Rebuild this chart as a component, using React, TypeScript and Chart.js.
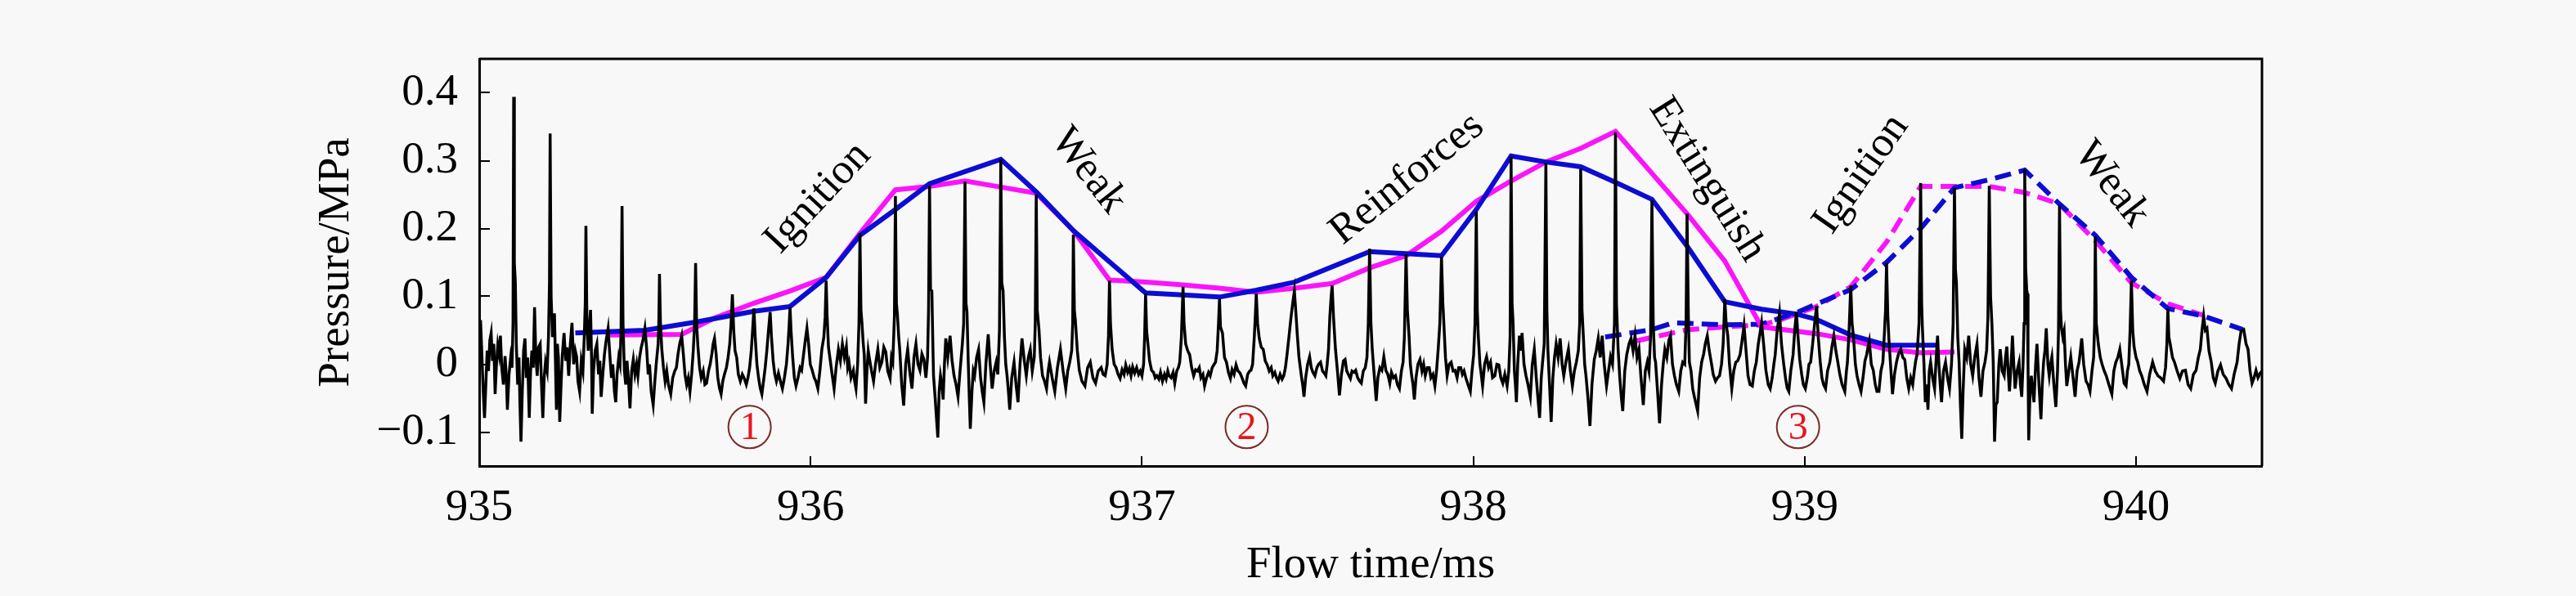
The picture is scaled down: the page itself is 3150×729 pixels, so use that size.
import React, { useEffect, useRef } from 'react';
import { Chart, registerables } from 'chart.js';

Chart.register(...registerables);

// ---------- data ----------
const xTickValues = [935, 936, 937, 938, 939, 940];
const xTickLabels = ['935', '936', '937', '938', '939', '940'];
const yTickValues = [-0.1, 0, 0.1, 0.2, 0.3, 0.4];
const yTickLabels = ['\u22120.1', '0', '0.1', '0.2', '0.3', '0.4'];

// measured pressure trace [flow time ms, pressure MPa]
const pressureTrace: [number, number][] = [
  [935.000, 0.030],[935.004, 0.065],[935.008, 0.015],[935.012, -0.040],[935.016, -0.079],[935.020, -0.030],[935.024, 0.020],[935.028, -0.010],[935.032, 0.035],[935.036, 0.046],[935.040, 0.005],[935.044, 0.030],[935.048, -0.044],[935.052, 0.000],[935.056, 0.028],[935.060, 0.015],[935.064, 0.042],[935.068, -0.005],[935.073, -0.030],[935.078, 0.012],[935.082, -0.020],[935.085, -0.067],[935.090, -0.015],[935.095, 0.010],[935.099, -0.005],[935.102, 0.060],[935.104, 0.394],[935.106, 0.150],[935.109, 0.121],[935.112, 0.030],[935.116, -0.030],[935.120, 0.010],[935.123, -0.060],[935.126, -0.114],[935.130, -0.040],[935.134, 0.020],[935.138, 0.038],[935.142, -0.020],[935.146, 0.010],[935.151, -0.079],[935.155, -0.010],[935.159, 0.020],[935.163, -0.005],[935.167, 0.084],[935.171, 0.010],[935.175, -0.017],[935.179, 0.025],[935.184, 0.030],[935.188, -0.030],[935.192, -0.079],[935.196, -0.020],[935.200, 0.003],[935.205, -0.010],[935.209, 0.040],[935.212, 0.120],[935.214, 0.340],[935.217, 0.100],[935.221, 0.040],[935.224, 0.060],[935.227, 0.075],[935.230, 0.005],[935.233, -0.067],[935.236, 0.030],[935.239, 0.010],[935.243, -0.085],[935.247, -0.030],[935.251, 0.015],[935.256, 0.046],[935.261, 0.005],[935.265, 0.025],[935.270, -0.017],[935.275, 0.030],[935.280, 0.061],[935.285, 0.000],[935.290, 0.020],[935.294, 0.011],[935.298, -0.025],[935.303, -0.040],[935.308, 0.005],[935.313, -0.010],[935.317, 0.040],[935.320, 0.090],[935.322, 0.204],[935.325, 0.060],[935.329, 0.020],[935.333, 0.060],[935.336, 0.080],[935.339, 0.010],[935.341, -0.073],[935.345, -0.010],[935.350, 0.020],[935.355, 0.030],[935.360, -0.015],[935.364, 0.005],[935.368, -0.048],[935.373, -0.015],[935.378, 0.015],[935.383, 0.035],[935.389, 0.053],[935.394, 0.015],[935.399, -0.020],[935.403, 0.000],[935.408, -0.040],[935.412, -0.056],[935.416, -0.015],[935.421, 0.010],[935.425, 0.000],[935.428, 0.050],[935.431, 0.233],[935.434, 0.060],[935.438, -0.009],[935.442, -0.030],[935.446, 0.005],[935.450, -0.020],[935.455, -0.065],[935.460, -0.010],[935.465, 0.007],[935.470, -0.015],[935.475, 0.000],[935.479, -0.017],[935.484, 0.010],[935.489, 0.025],[935.494, 0.035],[935.500, 0.053],[935.505, 0.025],[935.510, -0.015],[935.514, 0.000],[935.519, -0.040],[935.525, -0.060],[935.530, -0.025],[935.535, 0.005],[935.540, 0.030],[935.542, 0.060],[935.544, 0.133],[935.547, 0.060],[935.551, 0.022],[935.556, -0.005],[935.561, -0.025],[935.566, -0.010],[935.571, -0.030],[935.578, -0.044],[935.584, -0.020],[935.590, -0.010],[935.595, -0.005],[935.600, 0.015],[935.605, 0.030],[935.611, 0.042],[935.616, 0.015],[935.621, -0.015],[935.626, -0.030],[935.631, -0.020],[935.636, -0.040],[935.641, -0.015],[935.646, 0.020],[935.650, 0.060],[935.653, 0.149],[935.656, 0.060],[935.660, 0.026],[935.665, -0.005],[935.670, -0.020],[935.676, -0.010],[935.681, -0.030],[935.686, -0.028],[935.692, -0.010],[935.697, 0.000],[935.702, 0.015],[935.706, 0.030],[935.710, 0.038],[935.715, 0.015],[935.720, -0.020],[935.725, -0.035],[935.730, -0.044],[935.735, -0.025],[935.740, -0.015],[935.746, -0.005],[935.751, 0.010],[935.756, 0.030],[935.760, 0.060],[935.764, 0.103],[935.768, 0.050],[935.772, 0.020],[935.777, 0.010],[935.782, -0.015],[935.788, -0.025],[935.794, -0.015],[935.800, -0.021],[935.806, -0.030],[935.811, -0.020],[935.816, -0.005],[935.821, 0.020],[935.825, 0.050],[935.829, 0.082],[935.833, 0.040],[935.838, 0.000],[935.843, -0.020],[935.848, -0.035],[935.853, -0.044],[935.858, -0.025],[935.863, -0.005],[935.868, 0.020],[935.873, 0.050],[935.878, 0.077],[935.882, 0.040],[935.887, 0.005],[935.892, -0.015],[935.897, -0.025],
  [935.903, -0.013],[935.909, -0.025],[935.915, -0.036],[935.921, -0.020],[935.927, 0.000],[935.932, 0.030],[935.935, 0.055],[935.938, 0.084],[935.941, 0.050],[935.946, 0.010],[935.951, -0.020],[935.956, -0.032],[935.962, -0.020],[935.968, -0.005],[935.973, -0.009],[935.979, 0.015],[935.984, 0.035],[935.989, 0.053],[935.994, 0.030],[935.999, 0.000],[936.005, -0.009],[936.011, -0.020],[936.016, -0.025],[936.022, -0.036],[936.028, -0.010],[936.034, 0.022],[936.040, 0.040],[936.044, 0.070],[936.047, 0.123],[936.050, 0.070],[936.054, 0.025],[936.059, 0.007],[936.065, -0.015],[936.071, -0.036],[936.077, -0.005],[936.084, 0.022],[936.090, 0.005],[936.096, 0.030],[936.102, 0.010],[936.108, 0.026],[936.112, -0.005],[936.116, 0.003],[936.122, -0.020],[936.129, -0.009],[936.133, -0.025],[936.137, -0.036],[936.142, 0.000],[936.146, 0.060],[936.149, 0.193],[936.152, 0.080],[936.155, 0.061],[936.159, 0.030],[936.162, 0.014],[936.166, -0.058],[936.170, -0.010],[936.174, 0.020],[936.178, 0.007],[936.184, -0.010],[936.190, -0.025],[936.196, 0.000],[936.203, 0.022],[936.209, -0.005],[936.215, 0.003],[936.221, 0.025],[936.227, 0.018],[936.233, -0.010],[936.240, -0.021],[936.244, 0.010],[936.248, 0.003],[936.253, 0.070],[936.256, 0.248],[936.259, 0.090],[936.262, 0.073],[936.266, 0.040],[936.269, 0.022],[936.275, -0.030],[936.281, -0.061],[936.287, 0.000],[936.293, 0.022],[936.299, -0.010],[936.306, -0.036],[936.312, 0.010],[936.318, 0.030],[936.324, 0.000],[936.330, -0.009],[936.336, 0.015],[936.342, 0.007],[936.348, -0.020],[936.353, 0.010],[936.356, 0.080],[936.359, 0.263],[936.362, 0.110],[936.366, 0.108],[936.369, 0.030],[936.371, -0.017],[936.376, -0.050],[936.380, -0.080],[936.384, -0.108],[936.388, -0.040],[936.392, -0.017],[936.396, -0.030],[936.400, -0.052],[936.404, 0.000],[936.408, 0.038],[936.414, 0.010],[936.421, 0.042],[936.427, 0.005],[936.433, -0.017],[936.439, -0.030],[936.445, -0.048],[936.451, -0.010],[936.458, 0.030],[936.462, 0.060],[936.466, 0.269],[936.469, 0.090],[936.472, 0.077],[936.476, 0.000],[936.479, -0.050],[936.482, -0.095],[936.487, -0.040],[936.491, -0.010],[936.495, -0.017],[936.501, 0.010],[936.507, 0.022],[936.513, -0.020],[936.518, -0.040],[936.523, -0.056],[936.529, 0.000],[936.536, 0.044],[936.542, 0.000],[936.548, -0.036],[936.554, -0.010],[936.560, 0.003],[936.565, -0.015],[936.570, 0.050],[936.574, 0.302],[936.577, 0.120],[936.581, 0.108],[936.585, 0.040],[936.589, 0.000],[936.593, -0.017],[936.597, -0.040],[936.601, -0.067],[936.607, -0.020],[936.614, 0.003],[936.620, -0.030],[936.626, -0.056],[936.632, 0.000],[936.638, 0.038],[936.645, 0.005],[936.651, -0.017],[936.657, 0.010],[936.663, 0.022],[936.669, -0.010],[936.675, 0.010],[936.678, 0.060],[936.681, 0.250],[936.684, 0.080],[936.689, 0.053],[936.694, 0.010],[936.700, -0.017],[936.706, -0.025],[936.712, -0.036],[936.717, -0.010],[936.721, 0.003],[936.729, -0.020],[936.737, -0.040],[936.745, -0.005],[936.754, 0.022],[936.762, -0.010],[936.770, -0.036],[936.776, -0.010],[936.782, 0.003],[936.788, 0.020],[936.791, 0.060],[936.793, 0.191],[936.796, 0.080],[936.799, 0.065],[936.805, 0.020],[936.811, -0.009],[936.819, -0.025],[936.828, -0.032],
  [936.836, -0.005],[936.844, 0.003],[936.852, -0.020],[936.860, -0.028],[936.868, -0.010],[936.877, -0.005],[936.883, -0.015],[936.889, -0.017],[936.895, 0.000],[936.899, 0.042],[936.902, 0.123],[936.905, 0.060],[936.910, 0.022],[936.916, 0.000],[936.922, -0.005],[936.928, -0.015],[936.934, -0.021],[936.940, -0.008],[936.946, -0.015],[936.951, -0.001],[936.957, -0.012],[936.962, -0.006],[936.967, -0.017],[936.972, -0.004],[936.978, -0.013],[936.984, -0.005],[936.990, -0.015],[936.995, -0.010],[937.000, -0.017],[937.005, 0.000],[937.008, 0.040],[937.011, 0.104],[937.014, 0.050],[937.018, 0.030],[937.023, 0.005],[937.029, -0.009],[937.035, -0.012],[937.040, -0.020],[937.045, -0.017],[937.051, -0.022],[937.056, -0.012],[937.062, -0.025],[937.068, -0.015],[937.073, -0.022],[937.078, -0.010],[937.082, -0.017],[937.088, -0.020],[937.094, -0.012],[937.099, -0.028],[937.105, -0.010],[937.110, -0.005],[937.114, 0.003],[937.119, 0.040],[937.124, 0.114],[937.127, 0.060],[937.132, 0.030],[937.138, 0.020],[937.144, 0.014],[937.150, -0.005],[937.156, -0.017],[937.162, -0.008],[937.168, -0.010],[937.173, -0.005],[937.178, -0.020],[937.184, -0.015],[937.189, -0.032],[937.195, -0.020],[937.201, -0.012],[937.206, -0.017],[937.212, -0.005],[937.218, 0.000],[937.222, 0.003],[937.227, 0.020],[937.231, 0.060],[937.234, 0.096],[937.237, 0.055],[937.243, 0.046],[937.249, 0.010],[937.255, 0.003],[937.261, -0.012],[937.267, -0.021],[937.272, -0.008],[937.278, -0.015],[937.284, -0.001],[937.290, -0.010],[937.296, -0.013],[937.302, -0.020],[937.308, -0.028],[937.313, -0.032],[937.319, -0.015],[937.325, -0.010],[937.329, -0.009],[937.334, 0.000],[937.339, 0.040],[937.342, 0.070],[937.345, 0.104],[937.349, 0.060],[937.354, 0.038],[937.360, 0.025],[937.366, 0.022],[937.372, 0.005],[937.378, -0.001],[937.384, -0.010],[937.390, -0.005],[937.395, -0.017],[937.401, -0.012],[937.406, -0.020],[937.411, -0.025],[937.417, -0.015],[937.423, -0.022],[937.428, -0.017],[937.433, -0.005],[937.438, 0.015],[937.444, 0.042],[937.450, 0.070],[937.455, 0.090],[937.460, 0.108],[937.464, 0.080],[937.469, 0.042],[937.474, 0.010],[937.481, -0.017],[937.485, -0.030],[937.489, -0.048],[937.494, -0.020],[937.500, 0.000],[937.506, 0.011],[937.511, -0.005],[937.516, -0.012],[937.522, -0.017],[937.528, -0.005],[937.533, 0.000],[937.539, 0.003],[937.545, -0.010],[937.550, -0.013],[937.555, -0.017],[937.559, 0.000],[937.563, 0.022],[937.567, 0.070],[937.571, 0.100],[937.574, 0.116],[937.578, 0.070],[937.584, 0.022],[937.590, -0.010],[937.596, -0.046],[937.602, -0.015],[937.608, 0.005],[937.613, 0.007],[937.618, -0.010],[937.623, -0.015],[937.629, -0.021],[937.634, -0.010],[937.640, -0.012],[937.645, -0.009],[937.651, -0.020],[937.657, -0.025],[937.662, -0.028],[937.668, -0.010],[937.674, -0.005],[937.679, 0.010],[937.683, 0.060],[937.687, 0.170],[937.691, 0.060],[937.695, 0.022],[937.700, -0.010],[937.704, -0.035],[937.707, -0.054],[937.712, -0.020],[937.718, -0.005],[937.724, -0.009],[937.730, 0.011],
  [937.736, -0.009],[937.742, -0.015],[937.748, -0.028],[937.753, -0.012],[937.759, -0.020],[937.765, -0.017],[937.771, -0.030],[937.777, -0.036],[937.783, -0.010],[937.788, 0.003],[937.792, 0.040],[937.797, 0.162],[937.801, 0.080],[937.806, 0.042],[937.810, 0.000],[937.814, -0.017],[937.818, -0.030],[937.822, -0.052],[937.827, -0.020],[937.833, 0.000],[937.839, 0.007],[937.845, -0.010],[937.850, 0.000],[937.855, -0.017],[937.861, -0.005],[937.867, -0.005],[937.872, -0.020],[937.878, -0.015],[937.884, -0.032],[937.889, -0.010],[937.894, 0.022],[937.899, 0.060],[937.904, 0.158],[937.908, 0.090],[937.911, 0.061],[937.916, 0.010],[937.921, -0.017],[937.927, 0.000],[937.933, 0.003],[937.939, -0.010],[937.945, -0.009],[937.951, -0.020],[937.956, -0.005],[937.962, -0.005],[937.967, -0.015],[937.972, -0.010],[937.978, -0.021],[937.984, -0.030],[937.991, -0.040],[937.996, -0.010],[938.001, 0.014],[938.005, 0.060],[938.009, 0.225],[938.012, 0.080],[938.015, 0.042],[938.020, 0.000],[938.024, -0.015],[938.028, -0.032],[938.034, 0.000],[938.040, 0.011],[938.046, -0.005],[938.052, 0.003],[938.058, -0.020],[938.065, -0.017],[938.071, 0.000],[938.077, -0.001],[938.083, -0.020],[938.089, -0.028],[938.095, -0.015],[938.102, -0.032],[938.107, -0.010],[938.111, 0.040],[938.114, 0.306],[938.117, 0.090],[938.120, 0.061],[938.124, -0.010],[938.127, -0.030],[938.130, -0.056],[938.134, 0.000],[938.139, 0.042],[938.143, 0.020],[938.147, 0.046],[938.153, 0.000],[938.159, -0.017],[938.165, -0.030],[938.172, -0.048],[938.178, 0.000],[938.184, 0.022],[938.190, -0.020],[938.195, -0.050],[938.200, -0.079],[938.205, -0.020],[938.209, 0.003],[938.214, 0.030],[938.219, 0.297],[938.222, 0.080],[938.225, 0.022],[938.230, -0.030],[938.235, -0.085],[938.240, -0.020],[938.245, 0.010],[938.250, 0.030],[938.256, 0.010],[938.262, 0.038],[938.268, 0.000],[938.273, -0.017],[938.280, 0.005],[938.287, 0.022],[938.293, -0.010],[938.299, -0.032],[938.305, -0.010],[938.311, 0.003],[938.317, 0.020],[938.321, 0.060],[938.324, 0.288],[938.328, 0.080],[938.332, 0.042],[938.336, 0.000],[938.340, -0.017],[938.346, -0.050],[938.352, -0.091],[938.358, -0.030],[938.365, 0.007],[938.371, 0.020],[938.377, 0.038],[938.383, 0.010],[938.389, 0.042],[938.395, 0.000],[938.402, -0.032],[938.408, -0.010],[938.414, 0.011],[938.420, 0.000],[938.426, 0.060],[938.429, 0.342],[938.432, 0.090],[938.437, 0.022],[938.442, -0.020],[938.447, -0.050],[938.451, -0.069],[938.457, -0.010],[938.463, 0.014],[938.470, 0.030],[938.476, 0.038],[938.482, 0.020],[938.488, 0.042],[938.494, 0.010],[938.500, 0.022],[938.506, -0.020],[938.513, -0.060],[938.519, -0.010],[938.525, 0.003],[938.530, -0.010],[938.535, 0.040],[938.539, 0.241],[938.543, 0.060],[938.547, 0.010],[938.550, 0.003],[938.556, -0.040],[938.562, -0.087],[938.568, -0.030],[938.573, 0.000],[938.578, 0.022],[938.584, 0.010],[938.590, 0.035],[938.595, 0.042],[938.601, 0.000],[938.607, -0.017],[938.613, -0.030],[938.620, -0.040],[938.626, -0.010],[938.632, 0.003],[938.638, 0.000],[938.642, 0.060],[938.645, 0.222],[938.649, 0.070],[938.652, 0.003],[938.657, -0.010],[938.662, -0.036],
  [938.668, -0.050],[938.677, -0.069],[938.683, -0.020],[938.689, 0.003],[938.695, 0.015],[938.700, 0.030],[938.706, 0.042],[938.712, 0.020],[938.718, 0.003],[938.724, -0.015],[938.731, -0.025],[938.737, -0.020],[938.743, -0.017],[938.749, 0.000],[938.754, 0.030],[938.759, 0.096],[938.763, 0.060],[938.768, 0.042],[938.773, 0.000],[938.780, -0.036],[938.786, -0.010],[938.792, 0.003],[938.798, 0.005],[938.805, 0.014],[938.811, 0.035],[938.817, 0.057],[938.823, 0.020],[938.829, -0.017],[938.835, -0.030],[938.842, -0.032],[938.848, -0.010],[938.854, 0.003],[938.860, 0.030],[938.865, 0.045],[938.870, 0.061],[938.876, 0.030],[938.883, -0.009],[938.890, -0.030],[938.896, -0.036],[938.902, -0.020],[938.907, 0.000],[938.911, 0.014],[938.917, 0.050],[938.924, 0.075],[938.930, 0.030],[938.936, 0.003],[938.942, -0.020],[938.947, -0.035],[938.952, -0.040],[938.958, -0.010],[938.965, 0.014],[938.970, 0.050],[938.975, 0.077],[938.980, 0.040],[938.985, 0.007],[938.991, -0.015],[938.996, -0.030],[939.002, -0.036],[939.008, -0.020],[939.013, 0.000],[939.018, 0.003],[939.024, 0.030],[939.030, 0.060],[939.036, 0.086],[939.041, 0.040],[939.047, 0.003],[939.052, -0.020],[939.057, -0.030],[939.063, -0.036],[939.069, -0.010],[939.076, 0.003],[939.082, 0.025],[939.088, 0.042],[939.094, 0.020],[939.100, 0.003],[939.106, -0.015],[939.113, -0.030],[939.121, -0.040],[939.126, -0.010],[939.129, 0.003],[939.134, 0.050],[939.139, 0.116],[939.143, 0.060],[939.147, 0.042],[939.153, 0.000],[939.158, -0.017],[939.164, -0.030],[939.170, -0.040],[939.176, -0.020],[939.182, 0.005],[939.187, 0.014],[939.191, 0.025],[939.195, 0.034],[939.201, 0.000],[939.207, -0.009],[939.213, -0.030],[939.218, -0.040],[939.224, -0.040],[939.230, -0.010],[939.236, 0.003],[939.241, 0.050],[939.244, 0.080],[939.247, 0.149],[939.251, 0.070],[939.254, 0.038],[939.259, 0.000],[939.265, -0.044],[939.271, -0.015],[939.277, 0.003],[939.283, 0.015],[939.290, 0.022],[939.296, 0.010],[939.302, 0.007],[939.308, -0.020],[939.314, -0.036],[939.320, -0.020],[939.326, -0.030],[939.331, -0.009],[939.335, 0.005],[939.339, 0.014],[939.345, 0.060],[939.350, 0.267],[939.353, 0.090],[939.355, 0.057],[939.360, 0.000],[939.364, -0.056],[939.368, -0.030],[939.372, -0.067],[939.376, -0.010],[939.380, 0.003],[939.386, -0.020],[939.392, -0.036],[939.397, 0.010],[939.401, 0.042],[939.405, 0.000],[939.409, -0.030],[939.413, -0.056],[939.419, -0.010],[939.425, 0.003],[939.431, -0.020],[939.437, -0.036],[939.443, 0.000],[939.448, 0.060],[939.452, 0.260],[939.455, 0.140],[939.458, 0.119],[939.462, 0.040],[939.466, 0.003],[939.470, -0.060],[939.474, -0.110],[939.478, -0.040],[939.483, 0.022],[939.489, 0.010],[939.495, 0.042],[939.501, 0.000],[939.507, -0.017],[939.513, 0.010],[939.520, 0.030],[939.526, -0.020],[939.532, -0.048],[939.538, -0.010],[939.544, 0.003],[939.549, 0.020],[939.553, 0.070],[939.557, 0.263],
  [939.561, 0.100],[939.565, 0.060],[939.569, 0.003],[939.573, -0.114],[939.577, -0.060],[939.581, -0.056],[939.586, 0.000],[939.590, 0.022],[939.596, -0.010],[939.602, -0.017],[939.606, 0.010],[939.610, 0.026],[939.614, -0.010],[939.618, -0.040],[939.623, 0.000],[939.627, 0.042],[939.631, 0.000],[939.635, -0.036],[939.641, -0.010],[939.647, 0.003],[939.651, -0.030],[939.655, -0.048],[939.659, 0.000],[939.662, 0.060],[939.664, 0.287],[939.667, 0.140],[939.670, 0.110],[939.672, 0.104],[939.674, 0.000],[939.676, -0.112],[939.680, -0.040],[939.684, -0.017],[939.688, -0.040],[939.692, -0.056],[939.697, 0.000],[939.701, 0.030],[939.707, -0.030],[939.713, -0.081],[939.717, -0.030],[939.721, 0.003],[939.725, 0.020],[939.729, 0.053],[939.734, 0.000],[939.738, -0.017],[939.742, 0.000],[939.746, 0.011],[939.752, -0.030],[939.758, -0.063],[939.763, -0.010],[939.766, 0.050],[939.769, 0.234],[939.772, 0.080],[939.775, 0.053],[939.779, 0.040],[939.783, 0.049],[939.787, 0.000],[939.791, -0.032],[939.797, -0.010],[939.803, 0.011],[939.810, -0.020],[939.816, -0.048],[939.822, -0.010],[939.828, 0.003],[939.832, 0.020],[939.836, 0.038],[939.842, 0.000],[939.849, -0.025],[939.855, -0.030],[939.861, -0.040],[939.867, -0.010],[939.872, 0.010],[939.875, 0.060],[939.877, 0.188],[939.880, 0.060],[939.886, 0.030],[939.892, 0.010],[939.898, -0.001],[939.904, -0.010],[939.910, -0.017],[939.918, -0.030],[939.927, -0.044],[939.933, -0.010],[939.939, 0.003],[939.945, 0.010],[939.951, 0.022],[939.958, -0.005],[939.964, -0.028],[939.970, -0.032],[939.974, -0.010],[939.978, 0.000],[939.982, 0.050],[939.986, 0.123],[939.990, 0.050],[939.994, 0.026],[940.000, 0.010],[940.005, 0.003],[940.011, -0.010],[940.017, -0.017],[940.025, -0.030],[940.033, -0.040],[940.041, -0.015],[940.050, 0.003],[940.058, -0.010],[940.066, -0.017],[940.074, -0.020],[940.083, -0.025],[940.089, -0.005],[940.093, 0.030],[940.096, 0.082],[940.099, 0.040],[940.103, 0.030],[940.110, 0.010],[940.116, 0.003],[940.124, -0.010],[940.132, -0.021],[940.140, -0.010],[940.149, -0.009],[940.157, -0.030],[940.165, -0.036],[940.173, -0.015],[940.181, -0.009],[940.188, 0.010],[940.194, 0.022],[940.199, 0.050],[940.204, 0.071],[940.209, 0.050],[940.214, 0.053],[940.220, 0.020],[940.227, 0.003],[940.233, -0.020],[940.239, -0.028],[940.247, -0.010],[940.255, -0.001],[940.263, -0.015],[940.272, -0.021],[940.280, -0.030],[940.288, -0.036],[940.296, -0.015],[940.305, 0.003],[940.311, 0.030],[940.317, 0.049],[940.325, 0.051],[940.332, 0.030],[940.338, 0.022],[940.344, -0.010],[940.350, -0.028],[940.356, -0.020],[940.362, -0.009],[940.368, -0.020],[940.375, -0.013],[940.380, -0.010],
];

// envelope of peak pressures (blue solid)
const envelopeBlue: [number, number][] = [
  [935.290, 0.046],[935.500, 0.050],[935.653, 0.062],[935.829, 0.078],[935.938, 0.085],[936.047, 0.128],[936.149, 0.190],[936.256, 0.228],[936.359, 0.266],[936.574, 0.302],[936.681, 0.254],[936.793, 0.197],[936.902, 0.151],[937.011, 0.105],[937.124, 0.102],[937.234, 0.099],[937.345, 0.109],[937.460, 0.121],[937.687, 0.166],[937.797, 0.163],[937.904, 0.160],[938.009, 0.228],[938.114, 0.307],[938.219, 0.298],[938.324, 0.291],[938.429, 0.268],[938.539, 0.243],[938.648, 0.172],[938.759, 0.092],[938.870, 0.081],[938.975, 0.074],[939.036, 0.066],[939.139, 0.043],[939.247, 0.028],[939.405, 0.028],
];
// envelope (magenta solid)
const envelopeMagenta: [number, number][] = [
  [935.389, 0.043],[935.611, 0.044],[935.710, 0.068],[935.829, 0.090],[935.938, 0.108],[936.047, 0.128],[936.149, 0.193],[936.256, 0.257],[936.359, 0.262],[936.466, 0.270],[936.574, 0.261],[936.681, 0.252],[936.793, 0.197],[936.902, 0.124],[937.011, 0.121],[937.124, 0.117],[937.234, 0.112],[937.345, 0.106],[937.460, 0.112],[937.574, 0.119],[937.687, 0.142],[937.797, 0.160],[937.904, 0.196],[938.009, 0.240],[938.114, 0.270],[938.219, 0.298],[938.324, 0.318],[938.429, 0.343],[938.648, 0.220],[938.759, 0.152],[938.870, 0.055],[939.036, 0.045],[939.139, 0.036],[939.247, 0.022],[939.350, 0.017],[939.452, 0.018],
];
// next cycle envelopes (dashed)
const nextCycleBlue: [number, number][] = [
  [938.398, 0.040],[938.539, 0.051],[938.603, 0.061],[938.759, 0.058],[938.870, 0.059],[938.975, 0.076],[939.139, 0.110],[939.247, 0.150],[939.350, 0.200],[939.452, 0.260],[939.557, 0.272],[939.664, 0.286],[939.769, 0.236],[939.877, 0.190],[939.986, 0.128],[940.096, 0.082],[940.204, 0.071],[940.322, 0.051],
];
const nextCycleMagenta: [number, number][] = [
  [938.488, 0.034],[938.648, 0.051],[938.759, 0.055],[938.870, 0.058],[938.924, 0.065],[939.036, 0.085],[939.139, 0.114],[939.247, 0.180],[939.350, 0.262],[939.452, 0.262],[939.557, 0.262],[939.664, 0.253],[939.769, 0.236],[939.877, 0.182],[939.986, 0.120],[940.096, 0.089],[940.204, 0.072],
];

// phase annotations
const phaseLabels = ['Ignition', 'Weak', 'Reinforces', 'Extinguish', 'Ignition', 'Weak'];
const phaseTimes = [936.022, 936.838, 937.800, 938.705, 939.171, 939.926];
const phasePressures = [0.245, 0.285, 0.273, 0.272, 0.280, 0.265];
const stageLabels = ['1', '2', '3'];
const stageTimes = [935.816, 937.316, 938.980];
const stagePressures = [-0.0926, -0.0926, -0.0926];

// ---------- styling (not data) ----------
const FONT = '"Liberation Serif", "Times New Roman", serif';
const phaseAngles = [-47, 52, -39, 58, -55, 52];
const BLUE = '#0c0cd2';
const MAGENTA = '#fa14fa';

const toXY = (arr: [number, number][]) => arr.map(([x, y]) => ({ x, y }));

const overlayPlugin = {
  id: 'overlay',
  afterDraw(chart: any) {
    const { ctx, chartArea, scales } = chart;
    const xs = scales.x;
    const ys = scales.y;
    ctx.save();
    // frame top & right
    ctx.strokeStyle = '#000';
    ctx.lineWidth = 3;
    ctx.beginPath();
    ctx.moveTo(chartArea.left, chartArea.top);
    ctx.lineTo(chartArea.right, chartArea.top);
    ctx.lineTo(chartArea.right, chartArea.bottom);
    ctx.stroke();

    // phase labels
    ctx.fillStyle = '#000';
    ctx.font = `52px ${FONT}`;
    ctx.textAlign = 'center';
    ctx.textBaseline = 'middle';
    phaseLabels.forEach((t, i) => {
      const px = xs.getPixelForValue(phaseTimes[i]);
      const py = ys.getPixelForValue(phasePressures[i]);
      ctx.save();
      ctx.translate(px, py);
      ctx.rotate((phaseAngles[i] * Math.PI) / 180);
      ctx.fillText(t, 0, 0);
      ctx.restore();
    });

    // circled stage numbers
    stageLabels.forEach((t, i) => {
      const px = xs.getPixelForValue(stageTimes[i]);
      const py = ys.getPixelForValue(stagePressures[i]);
      ctx.beginPath();
      ctx.arc(px, py, 26, 0, Math.PI * 2);
      ctx.strokeStyle = '#7a2a2a';
      ctx.lineWidth = 2;
      ctx.stroke();
      ctx.fillStyle = '#e8141e';
      ctx.font = `48px ${FONT}`;
      ctx.textAlign = 'center';
      ctx.textBaseline = 'middle';
      ctx.fillText(t, px, py + 2);
    });
    ctx.restore();
  },
};

export default function App() {
  const canvasRef = useRef<HTMLCanvasElement | null>(null);

  useEffect(() => {
    if (!canvasRef.current) return;
    const line = (data: [number, number][], color: string, width: number, dash: number[] = []) => ({
      data: toXY(data),
      borderColor: color,
      borderWidth: width,
      borderDash: dash,
      pointRadius: 0,
      tension: 0,
      fill: false,
    });
    const chart = new Chart(canvasRef.current, {
      type: 'line',
      data: {
        datasets: [
          line(pressureTrace, '#000', 3.5),
          line(envelopeBlue, BLUE, 6),
          line(envelopeMagenta, MAGENTA, 6),
          line(nextCycleBlue, BLUE, 6, [20, 10]),
          line(nextCycleMagenta, MAGENTA, 6, [20, 10]),
        ],
      },
      options: {
        animation: false,
        responsive: false,
        devicePixelRatio: 1,
        layout: { padding: { left: 379, right: 384, top: 2, bottom: 0 } },
        plugins: { legend: { display: false }, tooltip: { enabled: false } },
        scales: {
          x: {
            type: 'linear',
            position: 'bottom',
            min: 935,
            max: 940.38,
            afterBuildTicks: (s: any) => {
              s.ticks = xTickValues.map((v) => ({ value: v }));
            },
            afterFit: (s: any) => {
              s.height = 159;
            },
            ticks: {
              color: '#000',
              font: { family: FONT, size: 55 },
              padding: 31,
              maxRotation: 0,
              autoSkip: false,
              callback: (_v: any, i: number) => xTickLabels[i],
            },
            grid: { drawOnChartArea: false, drawTicks: true, tickLength: -12, color: '#000', lineWidth: 2 },
            border: { display: true, color: '#000', width: 3 },
            title: {
              display: true,
              text: 'Flow time/ms',
              color: '#000',
              font: { family: FONT, size: 55 },
              padding: { top: 0, bottom: 4 },
            },
          },
          y: {
            type: 'linear',
            position: 'left',
            min: -0.15,
            max: 0.45,
            afterBuildTicks: (s: any) => {
              s.ticks = yTickValues.map((v) => ({ value: v }));
            },
            afterFit: (s: any) => {
              s.width = 207;
            },
            ticks: {
              color: '#000',
              font: { family: FONT, size: 55 },
              padding: 39,
              autoSkip: false,
              callback: (_v: any, i: number) => yTickLabels[i],
            },
            grid: { drawOnChartArea: false, drawTicks: true, tickLength: -13, color: '#000', lineWidth: 2 },
            border: { display: true, color: '#000', width: 3 },
            title: {
              display: true,
              text: 'Pressure/MPa',
              color: '#000',
              font: { family: FONT, size: 55 },
              padding: { top: 0, bottom: 0 },
            },
          },
        },
      },
      plugins: [overlayPlugin],
    } as any);
    return () => chart.destroy();
  }, []);

  return (
    <div style={{ position: 'absolute', left: 0, top: 0, width: 3150, height: 729, background: '#f8f8f8' }}>
      <canvas ref={canvasRef} width={3150} height={729} style={{ display: 'block' }} />
    </div>
  );
}
